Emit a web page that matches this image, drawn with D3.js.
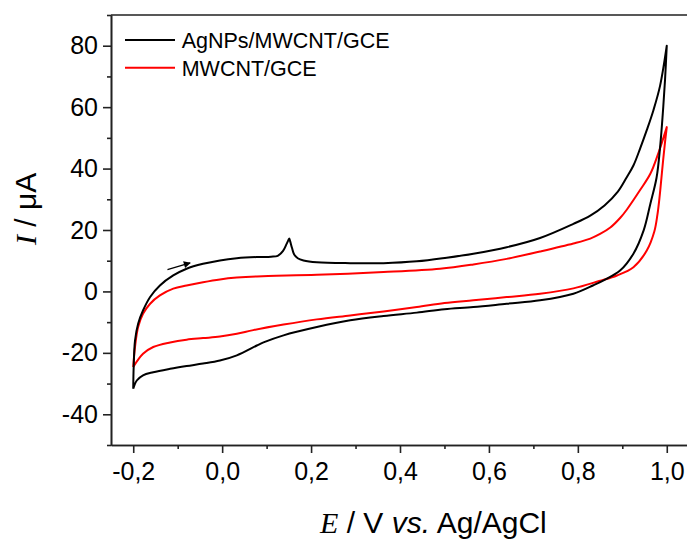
<!DOCTYPE html>
<html>
<head>
<meta charset="utf-8">
<script src="https://cdn.jsdelivr.net/npm/d3@7/dist/d3.min.js"></script>
<style>
  html, body { margin: 0; padding: 0; background: #fff; }
  svg { display: block; }
  .tick text { font-family: "Liberation Sans", Arial, sans-serif; fill: #000; }
</style>
</head>
<body>
<svg id="chart" width="687" height="539"></svg>
<script>
// Cyclic voltammograms, scan order: anodic sweep (-0.2 -> 1.0 V), then cathodic sweep back.
const seriesNames = ["AgNPs/MWCNT/GCE", "MWCNT/GCE"];
const seriesColors = ["#000000", "#ff0000"];

// AgNPs/MWCNT/GCE
const agFwdE = [-0.200, -0.199, -0.196, -0.189, -0.178, -0.162, -0.140, -0.110, -0.080, -0.043, -0.005, 0.033, 0.078, 0.110, 0.125, 0.137, 0.145, 0.149, 0.151, 0.153, 0.157, 0.162, 0.170, 0.183, 0.213, 0.288, 0.363, 0.438, 0.505, 0.565, 0.640, 0.715, 0.790, 0.828, 0.860, 0.890, 0.910, 0.925, 0.940, 0.955, 0.970, 0.985, 1.000];
const agFwdI = [-31.7, -24.6, -16.0, -10.5, -6.2, -1.8, 1.95, 5.2, 7.4, 9.0, 10.1, 10.8, 11.2, 11.3, 11.6, 13.2, 15.5, 16.7, 17.2, 16.3, 14.2, 12.0, 10.8, 10.1, 9.5, 9.2, 9.2, 9.8, 11.0, 12.3, 14.4, 17.4, 22.0, 24.7, 28.0, 32.5, 37.2, 41.0, 46.5, 52.5, 59.0, 67.0, 80.0];
const agRevE = [1.000, 0.996, 0.991, 0.985, 0.977, 0.963, 0.948, 0.925, 0.895, 0.858, 0.835, 0.790, 0.715, 0.640, 0.565, 0.500, 0.438, 0.363, 0.288, 0.213, 0.138, 0.093, 0.078, 0.033, -0.005, -0.043, -0.080, -0.117, -0.155, -0.178, -0.192, -0.200];
const agRevI = [80.0, 68.7, 57.8, 47.0, 37.0, 28.5, 19.9, 12.3, 6.8, 3.6, 2.0, -0.75, -2.9, -4.0, -5.1, -5.8, -6.9, -8.0, -9.4, -11.6, -14.3, -16.6, -17.6, -20.8, -22.5, -23.5, -24.3, -25.2, -26.3, -27.3, -29.0, -31.7];

// MWCNT/GCE
const cntFwdE = [-0.200, -0.196, -0.189, -0.178, -0.162, -0.140, -0.110, -0.080, -0.043, -0.005, 0.033, 0.078, 0.213, 0.363, 0.490, 0.565, 0.640, 0.715, 0.790, 0.828, 0.850, 0.873, 0.895, 0.910, 0.940, 0.963, 0.981, 1.000];
const cntFwdI = [-24.6, -18.1, -11.6, -7.3, -4.0, -1.3, 0.9, 1.95, 3.0, 3.9, 4.5, 4.9, 5.4, 6.3, 7.4, 8.8, 10.6, 13.0, 15.6, 17.2, 18.7, 20.8, 23.9, 26.6, 33.0, 38.3, 45.0, 53.5];
const cntRevE = [1.000, 0.996, 0.992, 0.988, 0.984, 0.979, 0.972, 0.955, 0.925, 0.888, 0.848, 0.790, 0.715, 0.640, 0.565, 0.500, 0.438, 0.363, 0.288, 0.213, 0.138, 0.070, 0.033, -0.005, -0.043, -0.080, -0.117, -0.155, -0.178, -0.200];
const cntRevI = [53.5, 48.5, 43.0, 37.0, 31.0, 25.0, 19.5, 13.3, 7.9, 5.2, 3.4, 1.0, -0.75, -1.85, -2.9, -3.8, -5.1, -6.5, -7.8, -9.1, -10.8, -12.6, -13.8, -14.7, -15.2, -15.7, -16.6, -18.1, -20.3, -24.6];

// Scan-direction arrow (tail, head)
const arrowE = [-0.123, -0.072];
const arrowI = [7.1, 9.3];

// Axis ticks
const xMajor = [-0.2, 0.0, 0.2, 0.4, 0.6, 0.8, 1.0];
const xMinor = [-0.1, 0.1, 0.3, 0.5, 0.7, 0.9];
const yMajor = [-40, -20, 0, 20, 40, 60, 80];
const yMinor = [-50, -30, -10, 10, 30, 50, 70, 90];

const svg = d3.select("#chart");
const plotLeft = 111, plotRight = 689, plotTop = 15, plotBottom = 445;

const x = d3.scaleLinear().domain([-0.25, 1.05]).range([plotLeft, plotRight]);
const y = d3.scaleLinear().domain([-50, 90]).range([plotBottom, plotTop]);

const zip = (es, is) => es.map((e, i) => [e, is[i]]);
const line = d3.line().x(d => x(d[0])).y(d => y(d[1])).curve(d3.curveCatmullRom.alpha(0.5));

// Draw a closed voltammogram as one path: forward sweep followed by the return sweep
function cvPath(fe, fi, re, ri) {
  const a = line(zip(fe, fi));
  const b = line(zip(re, ri)).replace(/^M/, "L");
  return a + b;
}

const curves = [
  cvPath(agFwdE, agFwdI, agRevE, agRevI),
  cvPath(cntFwdE, cntFwdI, cntRevE, cntRevI)
];

// MWCNT underneath, AgNPs on top
svg.append("g").selectAll("path")
  .data([1, 0])
  .join("path")
  .attr("d", i => curves[i])
  .attr("fill", "none")
  .attr("stroke", i => seriesColors[i])
  .attr("stroke-width", 2)
  .attr("stroke-linejoin", "round");

// Arrow marker
svg.append("defs").append("marker")
  .attr("id", "head")
  .attr("viewBox", "0 0 10 10")
  .attr("refX", 9).attr("refY", 5)
  .attr("markerWidth", 10).attr("markerHeight", 7)
  .attr("markerUnits", "userSpaceOnUse")
  .attr("orient", "auto")
  .append("path").attr("d", "M0,0 L10,5 L0,10 Z").attr("fill", "#000");

svg.append("line")
  .attr("x1", x(arrowE[0])).attr("y1", y(arrowI[0]))
  .attr("x2", x(arrowE[1])).attr("y2", y(arrowI[1]))
  .attr("stroke", "#000").attr("stroke-width", 1.2)
  .attr("marker-end", "url(#head)");

// Frame: top and right edges
svg.append("path")
  .attr("d", `M${plotLeft},${plotTop}H${plotRight}V${plotBottom}`)
  .attr("fill", "none").attr("stroke", "#222").attr("stroke-width", 1.6);

const fmtX = d => d.toFixed(1).replace(".", ",");
const fmtY = d => String(d);

svg.append("g").attr("transform", `translate(0,${plotBottom})`)
  .call(d3.axisBottom(x).tickValues(xMajor).tickFormat(fmtX).tickSize(8).tickPadding(9).tickSizeOuter(0));
svg.append("g").attr("transform", `translate(0,${plotBottom})`)
  .call(d3.axisBottom(x).tickValues(xMinor).tickFormat("").tickSize(4).tickSizeOuter(0));

svg.append("g").attr("transform", `translate(${plotLeft},0)`)
  .call(d3.axisLeft(y).tickValues(yMajor).tickFormat(fmtY).tickSize(8).tickPadding(5).tickSizeOuter(0));
svg.append("g").attr("transform", `translate(${plotLeft},0)`)
  .call(d3.axisLeft(y).tickValues(yMinor).tickFormat("").tickSize(4).tickSizeOuter(0));

svg.selectAll(".domain").attr("stroke", "#222").attr("stroke-width", 1.6);
svg.selectAll(".tick line").attr("stroke", "#222").attr("stroke-width", 1.6);
svg.selectAll(".tick text").attr("font-size", 25);

// Axis titles
const yTitle = svg.append("text")
  .attr("transform", "translate(36,245) rotate(-90)")
  .attr("font-family", "Liberation Sans, Arial, sans-serif")
  .attr("font-size", 30)
  .attr("fill", "#000");
yTitle.append("tspan").attr("font-family", "Liberation Serif, Times New Roman, serif").attr("font-style", "italic").text("I");
yTitle.append("tspan").text(" / μA");

const xTitle = svg.append("text")
  .attr("x", 320).attr("y", 533)
  .attr("font-family", "Liberation Sans, Arial, sans-serif")
  .attr("font-size", 30)
  .attr("fill", "#000");
xTitle.append("tspan").attr("font-family", "Liberation Serif, Times New Roman, serif").attr("font-style", "italic").text("E");
xTitle.append("tspan").text(" / V ");
xTitle.append("tspan").attr("font-style", "italic").text("vs.");
xTitle.append("tspan").text(" Ag/AgCl");

// Legend
const legend = svg.append("g").selectAll("g")
  .data(seriesNames)
  .join("g")
  .attr("transform", (d, i) => `translate(125,${40 + i * 27.7})`);
legend.append("line")
  .attr("x1", 0).attr("x2", 50)
  .attr("stroke", (d, i) => seriesColors[i]).attr("stroke-width", 2);
legend.append("text")
  .attr("x", 56.7).attr("y", 7.8)
  .attr("font-family", "Liberation Sans, Arial, sans-serif")
  .attr("font-size", 21.5)
  .attr("fill", "#000")
  .text(d => d);
</script>
</body>
</html>
